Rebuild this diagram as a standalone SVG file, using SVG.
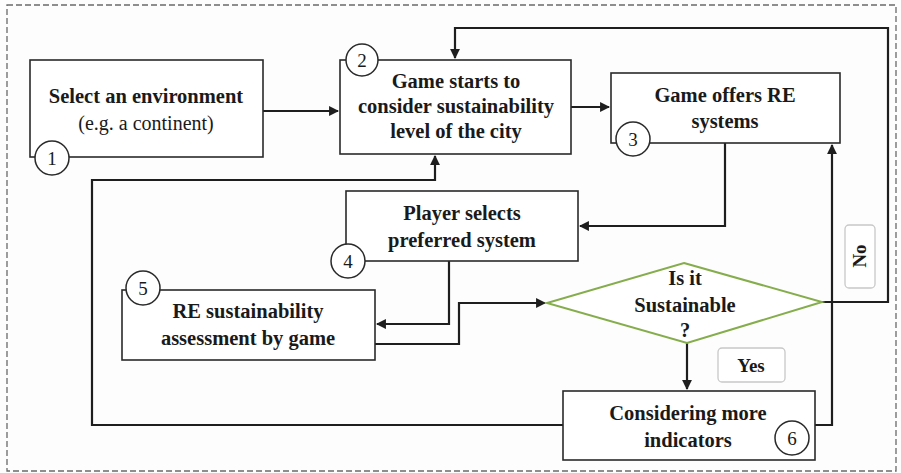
<svg xmlns="http://www.w3.org/2000/svg" width="901" height="473" viewBox="0 0 901 473">
<defs>
<style>
.frame{fill:none;stroke:#6a6a6a;stroke-width:1.3;stroke-dasharray:6 3}
.box{fill:#fff;stroke:#2a2a2a;stroke-width:1.6}
.num{fill:#fff;stroke:#2a2a2a;stroke-width:1.5}
.dia{fill:#fff;stroke:#86ad4c;stroke-width:2}
.lbl{fill:#fff;stroke:#c8c8c8;stroke-width:1.3}
.con{fill:none;stroke:#1e1e1e;stroke-width:2.2}
.t{font-family:'Liberation Serif','Times New Roman',serif;fill:#1a1a1a;text-anchor:middle}
.b{font-weight:bold;font-size:20.5px}
.r{font-size:20px}
.n{font-size:19px}
.s{font-weight:bold;font-size:19px}
</style>
<marker id="ah" viewBox="0 0 10 10" refX="9" refY="5" markerWidth="4.5" markerHeight="4.5" orient="auto" markerUnits="strokeWidth">
<path d="M0,0 L10,5 L0,10 z" fill="#1e1e1e"/>
</marker>
</defs>
<rect width="901" height="473" fill="#fdfdfd"/>
<rect class="frame" x="7" y="5" width="889" height="466"/>

<g id="connectors">
<path class="con" d="M263,111 H338" marker-end="url(#ah)"/>
<path class="con" d="M571,107 H609" marker-end="url(#ah)"/>
<path class="con" d="M725,143 V226 H580" marker-end="url(#ah)"/>
<path class="con" d="M449,261 V324 H377" marker-end="url(#ah)"/>
<path class="con" d="M372,344 H459 V303 H545" marker-end="url(#ah)"/>
<path class="con" d="M687,343 V389" marker-end="url(#ah)"/>
<path class="con" d="M815,425 H832 V145" marker-end="url(#ah)"/>
<path class="con" d="M822,302 H888 V28 H455 V58" marker-end="url(#ah)"/>
<path class="con" d="M563,425 H92 V180 H435 V156" marker-end="url(#ah)"/>
</g>

<g id="node1">
<rect class="box" x="30" y="60" width="233" height="97"/>
<text class="t b" x="146" y="103">Select an environment</text>
<text class="t r" x="146" y="130">(e.g. a continent)</text>
<circle class="num" cx="52" cy="158" r="17"/>
<text class="t n" x="52" y="165">1</text>
</g>

<g id="node2">
<rect class="box" x="340" y="60" width="231" height="94"/>
<text class="t b" x="456" y="88">Game starts to</text>
<text class="t b" x="456" y="113">consider sustainability</text>
<text class="t b" x="456" y="138">level of the city</text>
<circle class="num" cx="362" cy="60" r="16"/>
<text class="t n" x="362" y="67">2</text>
</g>

<g id="node3">
<rect class="box" x="611" y="73" width="229" height="70"/>
<text class="t b" x="725" y="102">Game offers RE</text>
<text class="t b" x="725" y="128">systems</text>
<circle class="num" cx="633" cy="139" r="17"/>
<text class="t n" x="633" y="146">3</text>
</g>

<g id="node4">
<rect class="box" x="346" y="191" width="232" height="70"/>
<text class="t b" x="462" y="220">Player selects</text>
<text class="t b" x="462" y="247">preferred system</text>
<circle class="num" cx="348" cy="261" r="17"/>
<text class="t n" x="348" y="268">4</text>
</g>

<g id="node5">
<rect class="box" x="122" y="290" width="253" height="70"/>
<text class="t b" x="248" y="318">RE sustainability</text>
<text class="t b" x="248" y="345">assessment by game</text>
<circle class="num" cx="143" cy="288" r="17"/>
<text class="t n" x="143" y="295">5</text>
</g>

<g id="decision">
<polygon class="dia" points="684,263 822,302 687,343 547,303"/>
<text class="t b" x="685" y="285">Is it</text>
<text class="t b" x="685" y="312">Sustainable</text>
<text class="t b" x="685" y="337">?</text>
</g>

<g id="node6">
<rect class="box" x="563" y="391" width="252" height="69"/>
<text class="t b" x="688" y="420">Considering more</text>
<text class="t b" x="688" y="447">indicators</text>
<circle class="num" cx="792" cy="438" r="17"/>
<text class="t n" x="792" y="445">6</text>
</g>

<g id="label-yes">
<rect class="lbl" x="718" y="348" width="67" height="34" rx="4"/>
<text class="t s" x="751" y="372">Yes</text>
</g>

<g id="label-no">
<rect class="lbl" x="845" y="225" width="30" height="63" rx="4"/>
<text class="t s" x="0" y="0" transform="translate(866,256) rotate(-90)">No</text>
</g>
</svg>
